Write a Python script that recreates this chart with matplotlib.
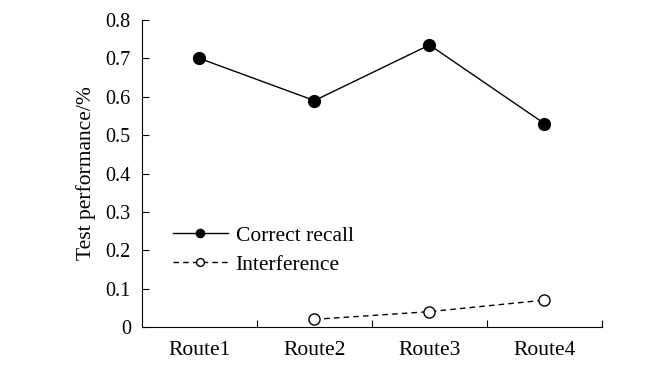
import numpy as np
import matplotlib
matplotlib.use("Agg")
import matplotlib.pyplot as plt

plt.rcParams['font.family'] = ['Liberation Serif', 'DejaVu Serif']

routes = ['Route1', 'Route2', 'Route3', 'Route4']
correct_recall = [0.70, 0.59, 0.735, 0.53]
interference = [np.nan, 0.02, 0.04, 0.07]
yticks = [0, 0.1, 0.2, 0.3, 0.4, 0.5, 0.6, 0.7, 0.8]

fig = plt.figure(figsize=(6.71, 3.65), dpi=100)
ax = fig.add_axes([0.2116, 0.1041, 0.6855, 0.8411])

x = np.arange(len(routes))
ax.plot(x, correct_recall, color='black', lw=1.0, marker='o', ms=8.5,
        mfc='black', mec='black', label='Correct recall')
ax.plot(x, interference, color='black', lw=1.0, ls=(0, (4, 3)), marker='o', ms=8,
        mfc='white', mec='black', mew=1.0, label='Interference')

ax.set_xlim(-0.5, len(routes) - 0.5)
ax.set_ylim(0, 0.8)
ax.set_yticks(yticks)
ax.set_yticklabels(['0'] + ['%.1f' % v for v in yticks[1:]])
ax.set_xticks(x)
ax.set_xticklabels(routes)
ax.set_xticks(np.arange(0.5, len(routes)), minor=True)
ax.tick_params(axis='x', which='major', length=0, labelsize=15.5, pad=10)
ax.tick_params(axis='x', which='minor', length=5, direction='in', width=0.8)
ax.tick_params(axis='y', length=5, direction='in', width=0.8, labelsize=14.5, pad=8)
ax.spines['top'].set_visible(False)
ax.spines['right'].set_visible(False)
ax.set_ylabel('Test performance/%', fontsize=15.5, labelpad=7)

leg = ax.legend(loc='upper left', bbox_to_anchor=(0.067, 0.33), frameon=False, fontsize=15.5,
                handlelength=2.55, markerscale=0.7, labelspacing=0.42, handletextpad=0.37,
                borderpad=0, borderaxespad=0)

fig.savefig('out.png', dpi=100)
